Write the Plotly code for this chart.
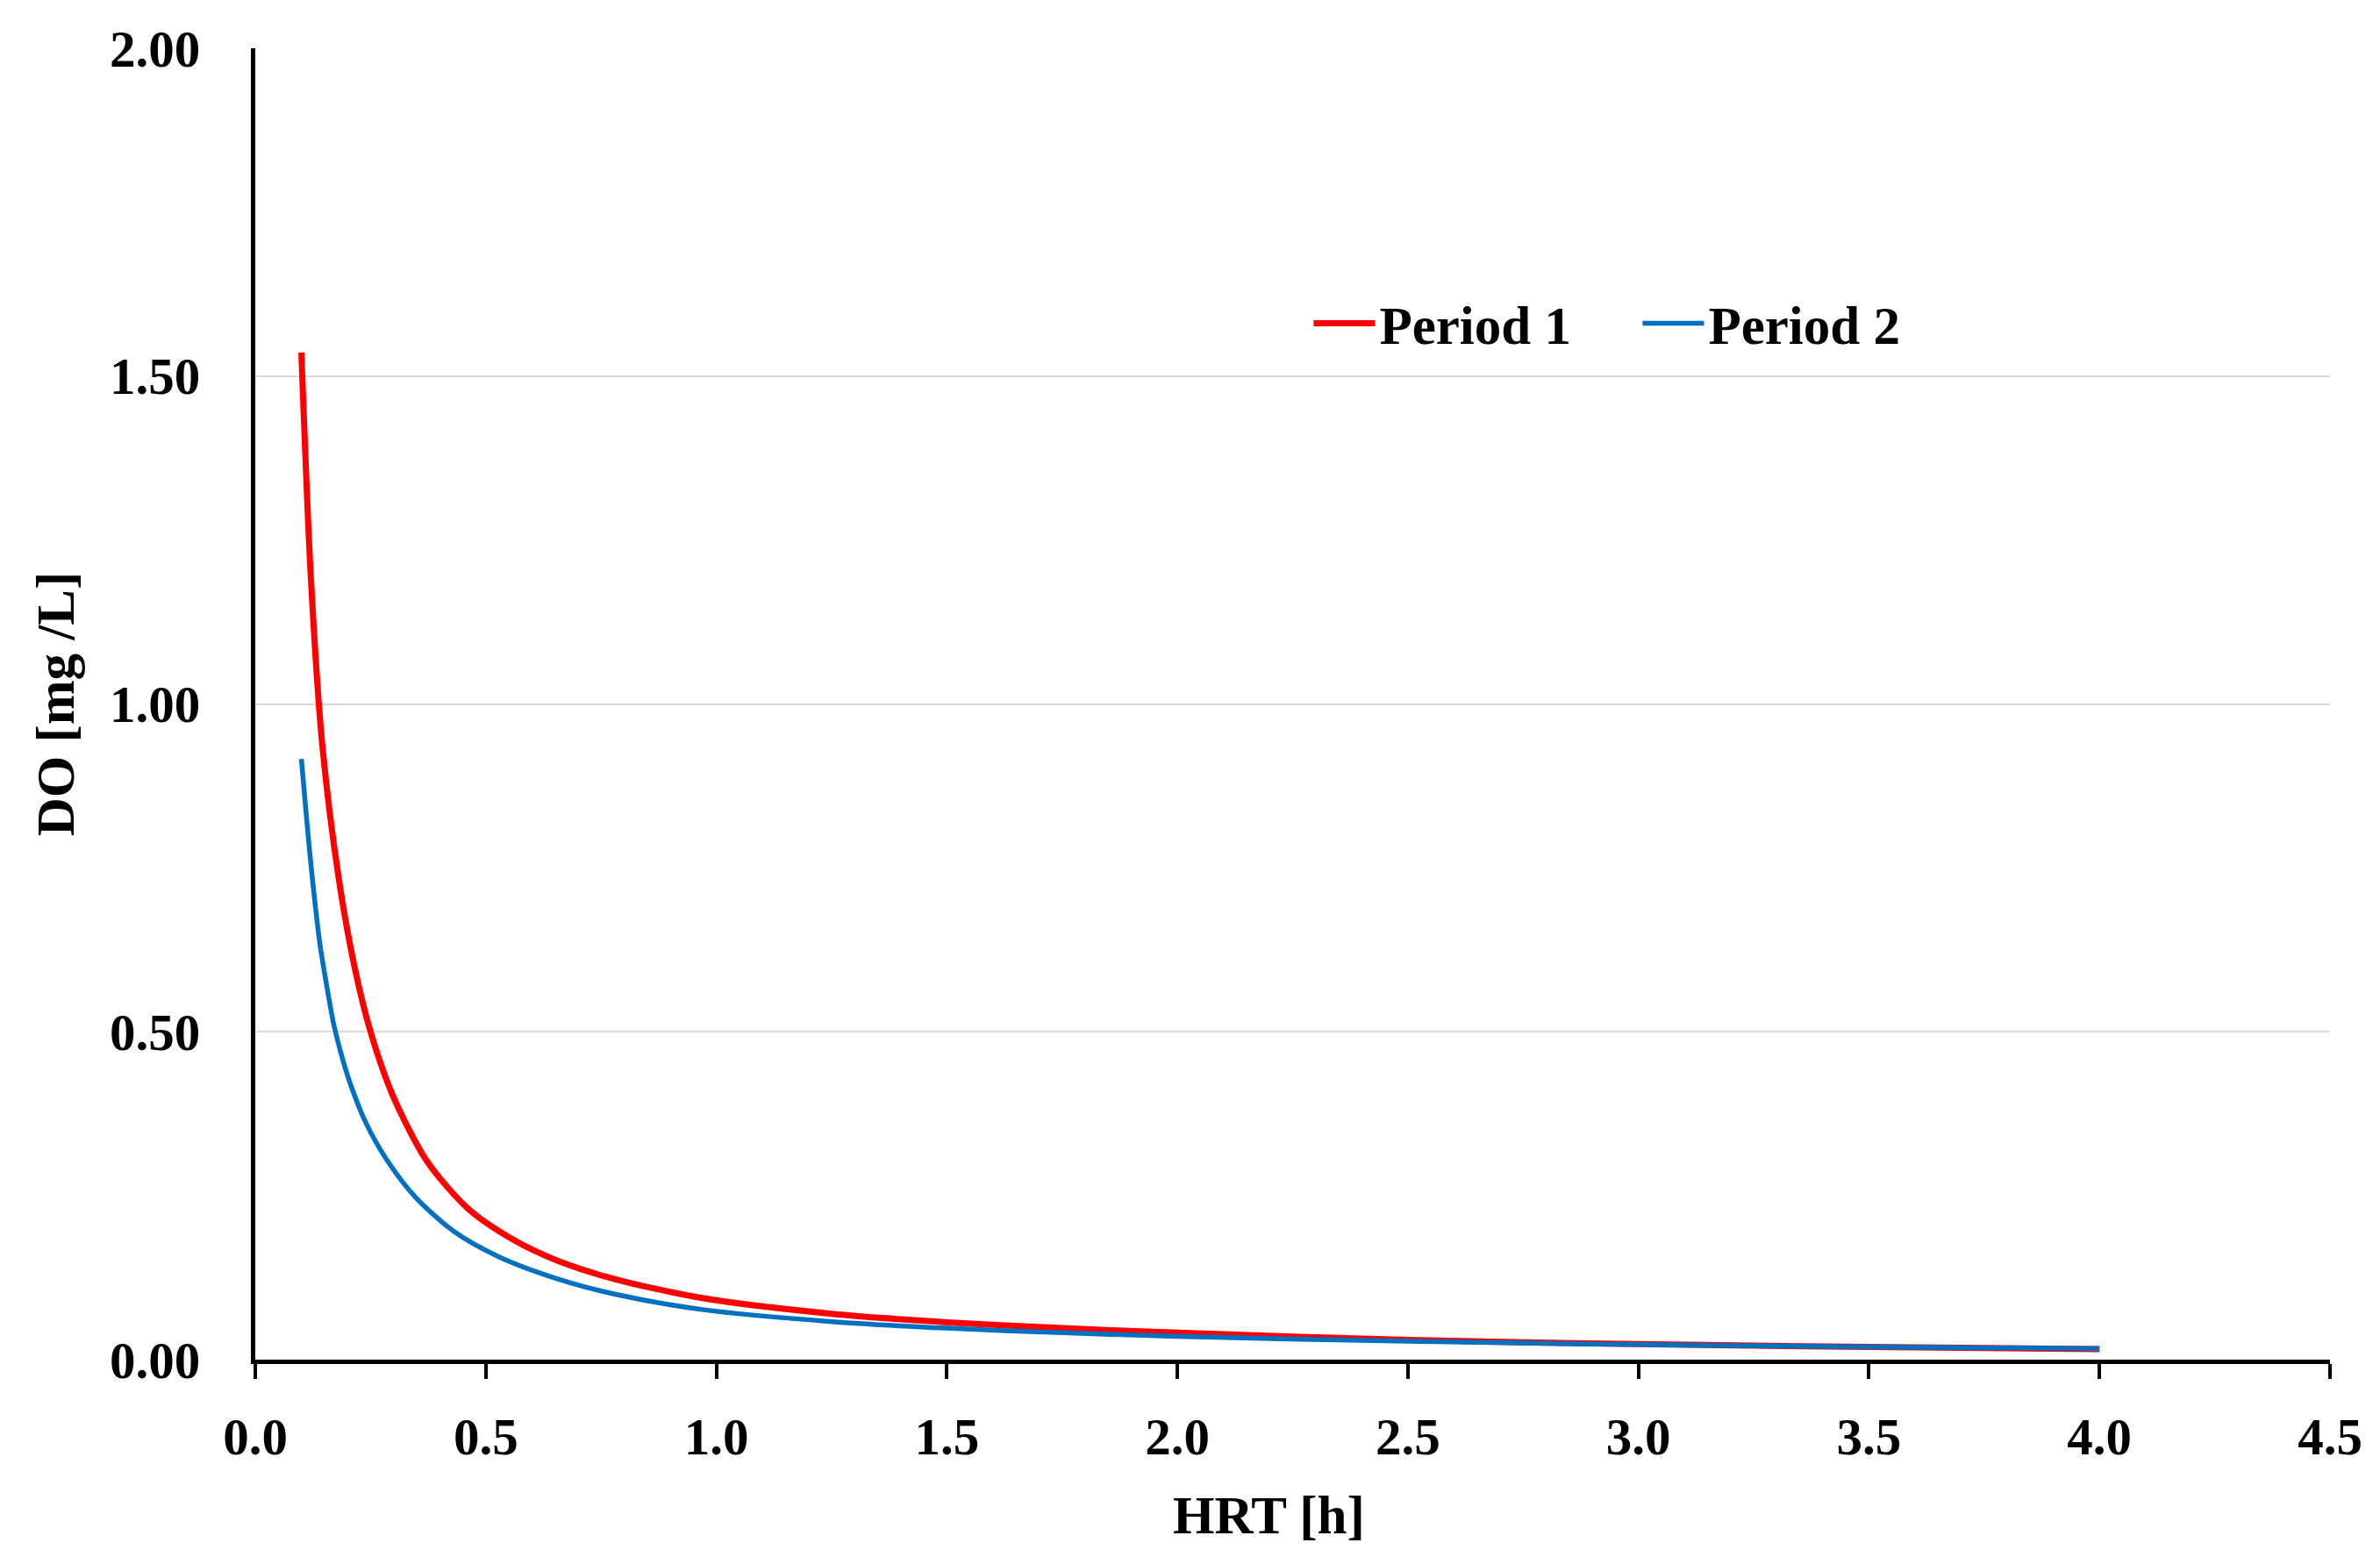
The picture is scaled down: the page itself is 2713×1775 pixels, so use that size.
import plotly.graph_objects as go

# HRT [h] and DO [mg/L]
p1_hrt = [0.100, 0.120, 0.145, 0.181, 0.215, 0.250, 0.300, 0.373, 0.462, 0.557, 0.652, 0.779,
          0.969, 1.25, 1.50, 1.75, 2.00, 2.50, 3.00, 3.50, 4.00]
p1_do = [1.536, 1.200, 0.940, 0.734, 0.600, 0.500, 0.400, 0.302, 0.230, 0.184, 0.152, 0.123,
         0.094, 0.070, 0.057, 0.048, 0.041, 0.030, 0.0236, 0.0193, 0.0161]

p2_hrt = [0.100, 0.120, 0.140, 0.155, 0.170, 0.190, 0.210, 0.240, 0.284, 0.347, 0.430, 0.525,
          0.652, 0.779, 0.969, 1.25, 1.50, 1.75, 2.00, 2.50, 3.00, 3.50, 4.00]
p2_do = [0.916, 0.760, 0.635, 0.570, 0.512, 0.457, 0.413, 0.361, 0.306, 0.248, 0.196, 0.158,
         0.124, 0.100, 0.0764, 0.058, 0.048, 0.041, 0.0355, 0.028, 0.023, 0.0195, 0.0168]

series_names = ["Period 1", "Period 2"]
x_title = "HRT [h]"
y_title = "DO [mg /L]"

FONT = "Liberation Serif"
FS_TICK = 59
FS_TEXT = 61

fig = go.Figure()
fig.add_trace(go.Scatter(x=p1_hrt, y=p1_do, mode="lines", name=series_names[0],
                         line=dict(color="#FF0000", width=7, shape="spline", smoothing=0.8)))
fig.add_trace(go.Scatter(x=p2_hrt, y=p2_do, mode="lines", name=series_names[1],
                         line=dict(color="#0070C0", width=5.5, shape="spline", smoothing=0.8)))

fig.update_layout(
    width=2713, height=1775,
    margin=dict(l=283, r=65, t=47, b=233),
    paper_bgcolor="white", plot_bgcolor="white",
    font=dict(family=FONT, size=FS_TEXT, color="black", weight="bold"),
    showlegend=True,
    legend=dict(orientation="h", x=0.508, y=0.79, xanchor="left", yanchor="middle",
                font=dict(family=FONT, size=FS_TEXT, color="black", weight="bold"),
                bgcolor="rgba(0,0,0,0)", itemwidth=70,
                entrywidth=290, entrywidthmode="pixels"),
    xaxis=dict(range=[0, 4.5], dtick=0.5, tick0=0, tickformat=".1f",
               showgrid=False, zeroline=False,
               showline=True, linecolor="black", linewidth=5,
               ticks="outside", ticklen=17, tickwidth=4, tickcolor="black",
               ticklabelstandoff=15,
               tickfont=dict(family=FONT, size=FS_TICK, color="black", weight="bold")),
    yaxis=dict(range=[0, 2.0], dtick=0.5, tick0=0, tickformat=".2f",
               showgrid=True, gridcolor="#D9D9D9", gridwidth=2, zeroline=False,
               showline=True, linecolor="black", linewidth=5,
               ticks="", ticklabelstandoff=46,
               tickfont=dict(family=FONT, size=FS_TICK, color="black", weight="bold"),
               title=dict(text=y_title, standoff=22,
                          font=dict(family=FONT, size=FS_TEXT, color="black", weight="bold"))),
    annotations=[dict(text=x_title, xref="paper", yref="paper", x=0.4886, y=-0.1184,
                      xanchor="center", yanchor="middle", showarrow=False,
                      font=dict(family=FONT, size=FS_TEXT, color="black", weight="bold"))],
)

fig.write_html("out.html")
